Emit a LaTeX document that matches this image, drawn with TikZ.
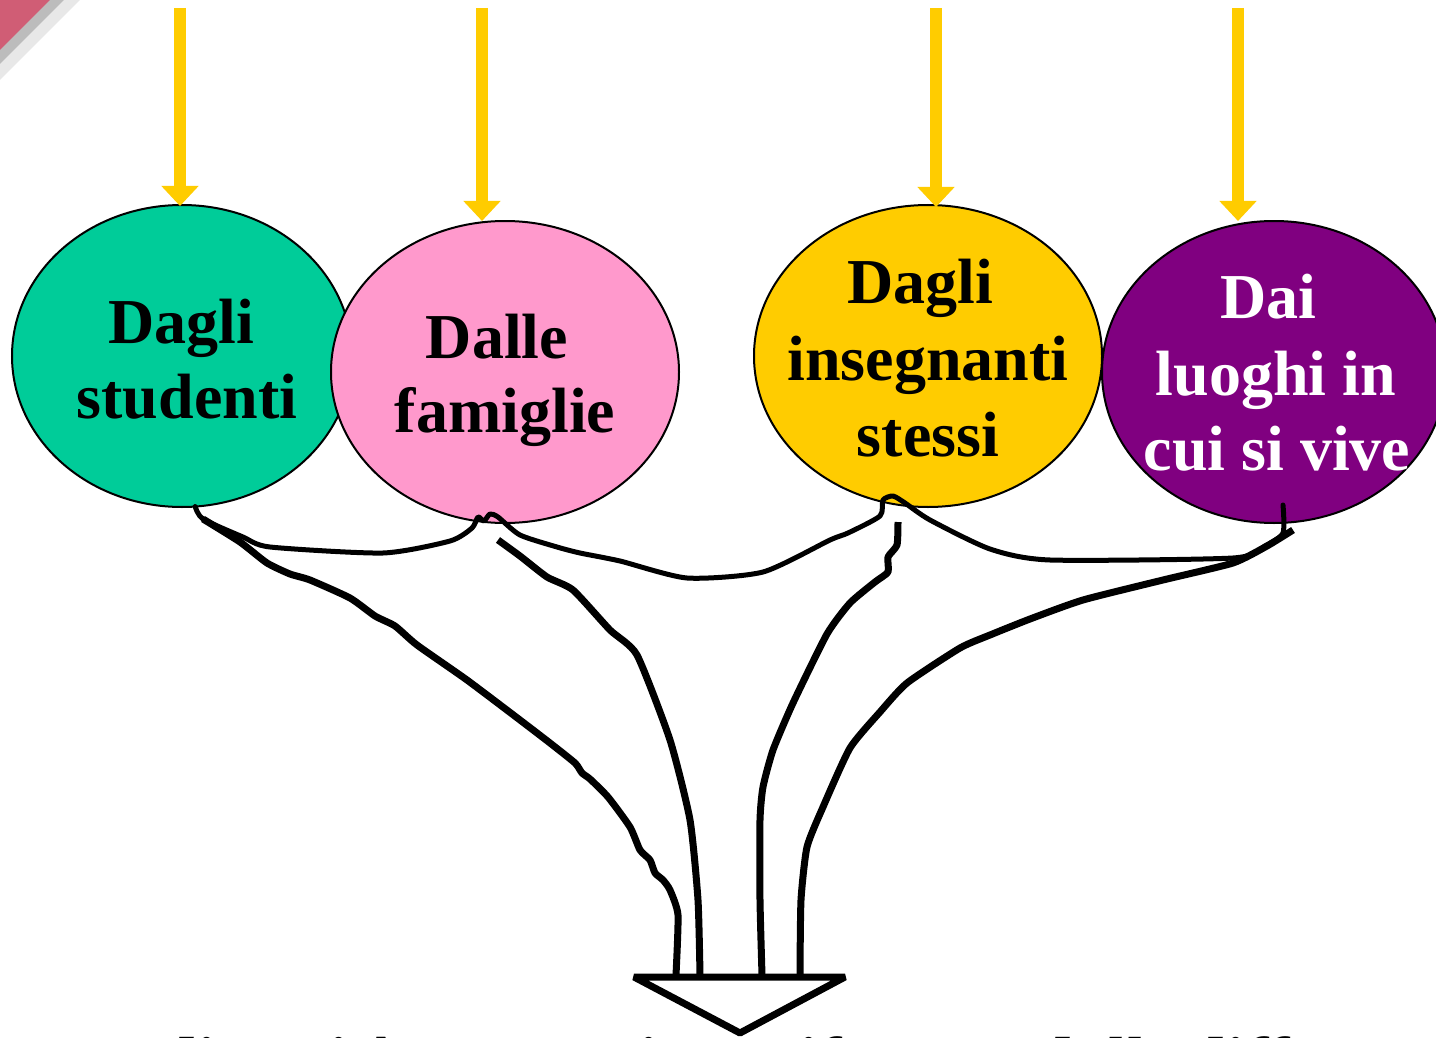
\documentclass[tikz,border=0pt]{standalone}
\usepackage{fontspec}
\setmainfont{Liberation Serif}
\usetikzlibrary{shapes.geometric,arrows.meta}
\definecolor{gGreen}{HTML}{00CC99}
\definecolor{gPink}{HTML}{FF99CC}
\definecolor{gGold}{HTML}{FFCC00}
\definecolor{gPurple}{HTML}{800080}
\definecolor{gCorner}{HTML}{C8405C}
\begin{document}
\begin{tikzpicture}[x=0.5pt,y=-0.5pt,
  blob/.style={ellipse,draw=black,line width=1pt,inner sep=0pt,outer sep=0pt},
  lbl/.style={font=\bfseries\fontsize{32}{38}\selectfont,anchor=base,inner sep=0pt},
  feed/.style={draw=gGold,line width=6pt,-{Triangle[width=18pt,length=10pt]}},
  belt/.style={draw=black,line width=2.5pt,line join=round,line cap=round},
  branch/.style={draw=black,line width=3.5pt,line join=round}]
\useasboundingbox (0,0) rectangle (1436,1038);
\clip (0,0) rectangle (1436,1038);
\fill[white] (0,0) rectangle (1436,1038);
% corner decoration
\fill[gray!35,opacity=0.5] (0,0) -- (80,0) -- (0,80) -- cycle;
\fill[gray!60,opacity=0.8] (0,0) -- (64,0) -- (0,64) -- cycle;
\fill[gCorner!85] (0,0) -- (50,0) -- (0,50) -- cycle;
% ellipses
\node[blob,fill=gGreen,minimum width=170pt,minimum height=151pt] (g) at (182,356) {};
\node[blob,fill=gPink,minimum width=174pt,minimum height=151pt] (p) at (505,372) {};
\node[blob,fill=gGold,minimum width=174pt,minimum height=151pt] (y) at (928,356) {};
\node[blob,fill=gPurple,minimum width=172pt,minimum height=151pt] (v) at (1274,372) {};
% labels
\node[lbl] (g1) at (181,343) {Dagli};
\node[lbl] (g2) at (187,418) {studenti};
\node[lbl] (p1) at (497,358) {Dalle};
\node[lbl] (p2) at (505,432) {famiglie};
\node[lbl] (y1) at (920,303) {Dagli};
\node[lbl] (y2) at (928,380) {insegnanti};
\node[lbl] (y3) at (928,456) {stessi};
\node[lbl,text=white] (v1) at (1268,318) {Dai};
\node[lbl,text=white] (v2) at (1276,395) {luoghi in};
\node[lbl,text=white] (v3) at (1277,470) {cui si vive};
% gold arrows
\coordinate (a1) at (180,8);
\coordinate (a2) at (482,8);
\coordinate (a3) at (936,8);
\coordinate (a4) at (1238,8);
\draw[feed] (a1) -- (180,206);
\draw[feed] (a2) -- (482,221);
\draw[feed] (a3) -- (936,207);
\draw[feed] (a4) -- (1238,221);
% big outline arrow
\coordinate (bl) at (634,977);
\coordinate (br) at (845,977);
\coordinate (bt) at (740,1033);
\draw[black,fill=white,line width=3.5pt,line join=bevel] (bl) -- (br) -- (bt) -- cycle;
\coordinate (s1) at (676,975);
\coordinate (s2) at (700,975);
\coordinate (s3) at (762,975);
\coordinate (s4) at (800,975);
% belt connecting the bottoms
\draw[belt] plot[smooth,tension=0.4] coordinates {(g.-85) (203,519) (243,537) (270,547) (383,553) (450,541) (472,528) (478,517) (484,521) (490,514) (498,517) (520,535) (557,547) (580,553) (620,561) (687,578) (763,572) (830,540) (848,533) (880,516) (883,500) (893,496) (905,503) (930,520) (990,549) (1050,560) (1233,558) (1265,546) (1283,533) (1283,505)};
% branches to the big arrow
\draw[branch] plot[smooth,tension=0.35] coordinates {(203,519) (240,542) (267,563) (290,574) (310,580) (350,598) (375,616) (395,626) (417,645) (467,680) (520,720) (550,743) (575,763) (582,773) (590,779) (608,797) (630,827) (640,850) (650,860) (655,873) (663,880) (670,890) (678,915) (s1)};
\draw[branch] plot[smooth,tension=0.35] coordinates {(498,540) (520,556) (547,577) (573,590) (610,630) (637,655) (670,740) (690,820) (698,900) (s2)};
\draw[branch] plot[smooth,tension=0.35] coordinates {(898,522) (897,545) (888,557) (888,572) (875,582) (850,603) (827,634) (793,703) (773,750) (763,787) (760,820) (760,900) (s3)};
\draw[branch] plot[smooth,tension=0.35] coordinates {(1293,530) (1267,546) (1233,563) (1163,580) (1083,600) (1030,619) (990,635) (960,648) (907,683) (880,712) (850,748) (823,807) (807,847) (801,900) (s4)};
% bottom text (cut off by the picture edge)
\node[font=\bfseries\itshape\fontsize{34}{40}\selectfont,anchor=base west,inner sep=0pt] (bottom) at (70,1084) {Le diversità spesso si manifestano dalle differenze};
\end{tikzpicture}
\end{document}
